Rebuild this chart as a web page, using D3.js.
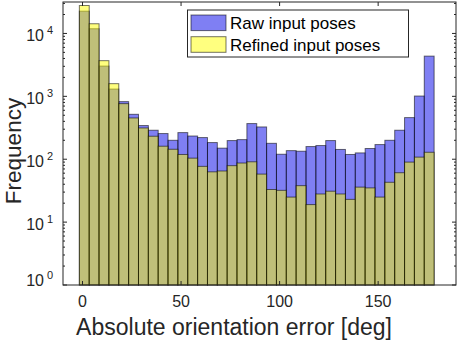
<!DOCTYPE html>
<html><head><meta charset="utf-8">
<script src="https://cdn.jsdelivr.net/npm/d3@7"></script>
<style>body{margin:0;background:#fff}svg{display:block;font-family:"Liberation Sans",Arial,Helvetica,sans-serif}</style>
</head><body>
<script>
// ---- data ----
const binStart = -1.6;      // left edge of first bin (deg)
const binWidth = 5.0;       // bin width (deg)
const rawCounts = [22600,11880,3030,1306,824,518,343,289,256,200,265,234,221,184,150,198,205,369,
                   326,179,120,137,134,159,165,198,143,119,126,148,171,200,289,459,1011,4360];
const refinedCounts = [27800,14260,3690,1590,765,453,314,232,161,144,119,104,77,63,65,79,87,91,
                   58,33,32,25,38,19,28,31,28,23,36,35,25,43,61,90,108,129];
const xTicks = [0,50,100,150];
const yTickExps = [0,1,2,3,4];
const seriesNames = ["Raw input poses","Refined input poses"];
const xLabel = "Absolute orientation error [deg]";
const yLabel = "Frequency";

// ---- layout ----
const W = 458, H = 341;
const L = 63, R = 456, T = 2, B = 285;
const axisCol = "#262626";
const svg = d3.select("body").append("svg").attr("width",W).attr("height",H);

const x = d3.scaleLinear().domain([-9.9,189.5]).range([L,R]);
const y = d3.scaleLog().domain([1, Math.pow(10,4.5)]).range([B,T]);

const bins = rawCounts.map((v,i)=>({x0: binStart+i*binWidth, x1: binStart+(i+1)*binWidth, raw: v, ref: refinedCounts[i]}));

const colors = {raw:"#0000e8", ref:"#ffff00"};
function drawBars(key, col){
  svg.append("g").selectAll("rect").data(bins).join("rect")
    .attr("x", d=>x(d.x0)).attr("width", d=>x(d.x1)-x(d.x0))
    .attr("y", d=>y(d[key])).attr("height", d=>y(1)-y(d[key]))
    .attr("fill", col).attr("fill-opacity",0.5)
    .attr("stroke","#000").attr("stroke-opacity",0.55).attr("stroke-width",1);
}
drawBars("raw", colors.raw);
drawBars("ref", colors.ref);

// ---- frame ----
svg.append("rect").attr("x",L).attr("y",T).attr("width",R-L).attr("height",B-T)
  .attr("fill","none").attr("stroke",axisCol).attr("stroke-width",1);

// x ticks bottom/top
const gx = svg.append("g").attr("stroke",axisCol).attr("stroke-width",1);
xTicks.forEach(t=>{
  gx.append("line").attr("x1",x(t)).attr("x2",x(t)).attr("y1",B).attr("y2",B-4);
  gx.append("line").attr("x1",x(t)).attr("x2",x(t)).attr("y1",T).attr("y2",T+4);
});
svg.append("g").selectAll("text").data(xTicks).join("text")
  .attr("x",d=>x(d)).attr("y",307).attr("text-anchor","middle")
  .attr("font-size",16).attr("fill",axisCol).text(d=>d);

// y ticks (major + minor) left/right
const gy = svg.append("g").attr("stroke",axisCol).attr("stroke-width",1);
for(let e=0;e<=4;e++){
  for(let m=1;m<=9;m++){
    const v = m*Math.pow(10,e);
    if(v > y.domain()[1]) continue;
    const len = m===1?4:2;
    const yy = y(v);
    gy.append("line").attr("x1",L).attr("x2",L+len).attr("y1",yy).attr("y2",yy);
    gy.append("line").attr("x1",R).attr("x2",R-len).attr("y1",yy).attr("y2",yy);
  }
}
svg.append("g").selectAll("text").data(yTickExps).join("text")
  .attr("x",44).attr("y",d=> d===0 ? 286 : y(Math.pow(10,d))+8)
  .attr("text-anchor","end").attr("font-size",16).attr("fill",axisCol).text("10");
svg.append("g").selectAll("text").data(yTickExps).join("text")
  .attr("x",47).attr("y",d=> d===0 ? 279 : y(Math.pow(10,d))+0.5)
  .attr("font-size",11).attr("fill",axisCol).text(d=>d);

// axis labels
svg.append("text").attr("x",234).attr("y",335).attr("text-anchor","middle")
  .attr("font-size",23).attr("fill",axisCol).text(xLabel);
svg.append("text").attr("transform","translate(21,151) rotate(-90)").attr("text-anchor","middle")
  .attr("font-size",22.5).attr("fill",axisCol).text(yLabel);

// legend
const lg = svg.append("g");
lg.append("rect").attr("x",187.5).attr("y",10).attr("width",221).attr("height",47)
  .attr("fill","#fff").attr("stroke",axisCol).attr("stroke-width",1);
[colors.raw, colors.ref].forEach((c,i)=>{
  const cy = 22.8 + i*21.7;
  lg.append("rect").attr("x",191).attr("y",cy-7.8).attr("width",35).attr("height",15.6)
    .attr("fill",c).attr("fill-opacity",0.5).attr("stroke","#000").attr("stroke-opacity",0.55);
  lg.append("text").attr("x",230).attr("y",cy+6).attr("font-size",17).attr("fill","#000").text(seriesNames[i]);
});
</script>
</body></html>
